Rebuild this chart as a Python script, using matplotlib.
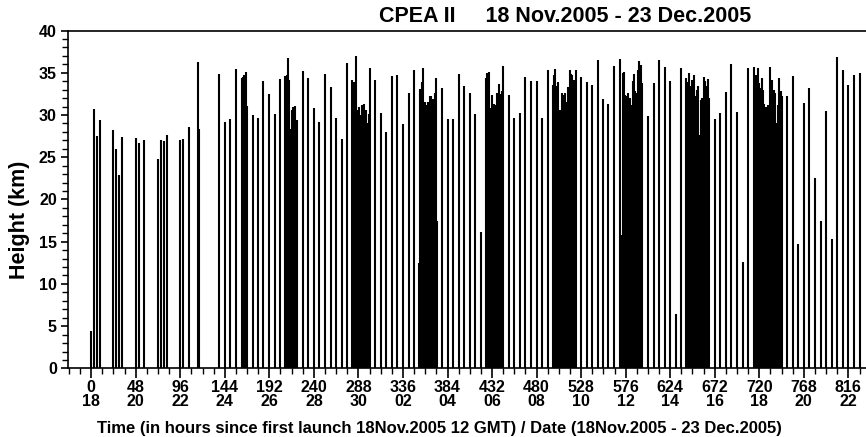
import numpy as np
import matplotlib
matplotlib.use("Agg")
import matplotlib.pyplot as plt
from matplotlib.ticker import MultipleLocator

plt.rcParams.update({
    "font.family": "Liberation Sans",
    "font.weight": "bold",
    "axes.linewidth": 1.2,
})

# ---- launch times (hours since first launch) and burst heights (km) ----
# isolated 6-hourly soundings plus the intensive (dense) periods
launch_hours = [
    0, 3, 6, 9, 24, 27, 30, 33, 48.5, 51.5, 57, 71.5, 75, 78, 81.5,
    96, 99, 105, 115, 116.5,
    137.5, 144, 150, 156, 162, 163.5, 165, 166.5, 168, 174, 179.5, 185.5,
    192, 198, 204,
    209, 210.5, 212, 213.5, 215, 216.5, 218, 220, 221.5,
    228, 234, 240, 246, 252, 258, 264, 270, 276,
    281.6, 283.4, 285.2, 286.9, 288.8, 290.6, 292.3, 294.2, 296.0, 297.7,
    299.6, 300.6,
    306, 312, 318, 324, 330, 336, 342, 348,
    353.8, 354.8, 356.3, 357.8, 359.6, 361.3, 363.1, 364.6, 366.4, 368.2,
    370.0, 371.4, 372.5,
    378, 384, 390, 396, 402, 408, 414, 420,
    425.6, 427.1, 428.6, 430.3, 432.1, 433.9, 435.7, 437.5, 439.3, 441.1,
    442.6, 444.0,
    450, 456, 462, 468, 474, 480, 486, 492,
    497.5, 498.6, 500.0, 501.8, 503.6, 505.4, 507.2, 509.0, 510.8, 512.6,
    514.3, 515.8, 517.2, 518.6, 520.1, 521.2, 523.0,
    528, 534, 540, 546, 552, 557.5, 563.5,
    570.0, 571.9, 572.6, 574.0, 575.8, 577.3, 579.0, 580.5, 582.2, 583.7,
    585.1, 586.5, 588.0, 589.4, 590.8, 592.3, 593.8,
    600, 606, 612, 618, 624, 630, 636,
    641.5, 643.0, 644.7, 646.2, 647.9, 649.4, 651.2, 652.7, 654.1, 655.5,
    657.3, 658.7, 660.2, 661.6, 663.0, 664.5, 665.9,
    672, 678, 684, 690, 696, 702, 708,
    714.1, 715.5, 716.9, 718.4, 719.8, 721.2, 722.7, 724.1, 725.5, 727.0,
    728.4, 729.8, 731.4, 732.8, 734.2, 735.6, 737.1, 738.9, 740.3, 741.7,
    743.2, 744.6,
    750, 756, 762, 768, 774, 780, 786, 792, 798, 804, 810, 816, 822, 828,
]

burst_km = [
    4.4, 30.7, 27.5, 29.4, 28.2, 26.0, 22.9, 27.4, 27.3, 26.7, 27.0, 24.8,
    27.0, 26.9, 27.6,
    27.0, 27.2, 28.6, 36.3, 28.3,
    34.9, 29.2, 29.5, 35.5, 34.4, 34.5, 34.7, 35.1, 31.1, 30.0, 29.7, 34.0,
    32.5, 30.1, 34.3,
    34.6, 34.8, 36.7, 34.1, 28.4, 30.6, 30.9, 31.1, 29.4,
    35.2, 34.4, 30.8, 29.2, 34.9, 33.3, 29.6, 27.2, 36.2,
    34.2, 33.9, 37.0, 30.6, 31.0, 30.0, 31.2, 31.3, 30.6, 29.0,
    30.1, 35.6,
    34.2, 30.3, 28.0, 34.6, 34.8, 28.9, 32.6, 35.3,
    12.5, 33.1, 33.9, 35.6, 31.6, 31.2, 31.6, 32.3, 32.2, 31.9,
    32.6, 34.4, 17.4,
    33.2, 29.5, 29.5, 34.9, 33.4, 32.6, 30.1, 16.1,
    34.4, 35.0, 35.1, 30.8, 32.4, 31.3, 31.2, 32.6, 33.7, 32.5,
    32.8, 35.8,
    32.4, 29.7, 30.2, 34.5, 34.0, 34.0, 29.6, 35.3,
    33.6, 34.8, 35.4, 33.4, 33.9, 30.6, 32.6, 32.4, 32.6, 31.6,
    33.3, 35.3, 34.9, 34.7, 34.1, 32.8, 35.3,
    34.5, 33.9, 33.5, 36.5, 31.9, 31.3, 35.8,
    36.6, 15.8, 35.0, 35.1, 32.4, 32.3, 32.6, 32.0, 31.2, 34.0,
    34.9, 32.8, 32.6, 35.3, 36.4, 35.9, 33.8,
    29.9, 33.8, 36.5, 35.7, 34.0, 6.4, 35.6,
    34.4, 33.9, 35.0, 33.4, 34.1, 34.7, 32.3, 33.0, 33.4, 27.6,
    31.8, 32.0, 34.5, 34.0, 33.4, 34.3, 32.0,
    29.5, 30.3, 32.7, 36.0, 30.4, 12.6, 35.6,
    35.7, 32.4, 34.7, 35.6, 33.8, 33.2, 34.4, 33.0, 31.3, 31.0,
    30.5, 31.2, 35.7, 34.0, 34.1, 33.0, 32.6, 29.0, 31.2, 34.4,
    32.9, 32.3,
    32.3, 34.6, 14.7, 31.4, 33.2, 22.5, 17.5, 30.5, 15.3, 36.9, 35.3, 33.5,
    34.8, 35.0,
]

hour_ticks = [0, 48, 96, 144, 192, 240, 288, 336, 384, 432, 480, 528, 576,
              624, 672, 720, 768, 816]
date_labels = ["18", "20", "22", "24", "26", "28", "30", "02", "04", "06",
               "08", "10", "12", "14", "16", "18", "20", "22"]

fig = plt.figure(figsize=(8.66, 4.37), dpi=100)
ax = fig.add_axes([0.0785, 0.157, 0.9215, 0.773])

ax.vlines(launch_hours, 0, burst_km, color="black", lw=1.5)

ax.set_xlim(-25, 835)
ax.set_ylim(0, 40)

ax.set_xticks(hour_ticks)
ax.set_xticklabels([f"{h}\n{d}" for h, d in zip(hour_ticks, date_labels)],
                   fontsize=11.5, fontweight="bold", linespacing=0.95)
ax.xaxis.set_minor_locator(MultipleLocator(12))
ax.yaxis.set_major_locator(MultipleLocator(5))
ax.yaxis.set_minor_locator(MultipleLocator(1))
ax.tick_params(axis="x", which="major", length=7, width=1.2, pad=1)
ax.tick_params(axis="x", which="minor", length=4, width=1.0)
ax.tick_params(axis="y", which="major", length=5, width=1.2, pad=3,
               labelsize=11.5)
ax.tick_params(axis="y", which="minor", length=4, width=1.0)
for lab in ax.get_yticklabels():
    lab.set_fontweight("bold")

ax.spines["right"].set_visible(False)

ax.set_ylabel("Height (km)", fontsize=15.5, fontweight="bold")
ax.yaxis.set_label_coords(-0.047, 0.44)
ax.set_xlabel("Time (in hours since first launch 18Nov.2005 12 GMT) / "
              "Date (18Nov.2005 - 23 Dec.2005)",
              fontsize=12, fontweight="bold")
ax.xaxis.set_label_coords(0.465, -0.155)

fig.text(0.652, 0.962, "CPEA II     18 Nov.2005 - 23 Dec.2005",
         ha="center", va="center", fontsize=15.5, fontweight="bold")

fig.savefig("out.png", dpi=100)
